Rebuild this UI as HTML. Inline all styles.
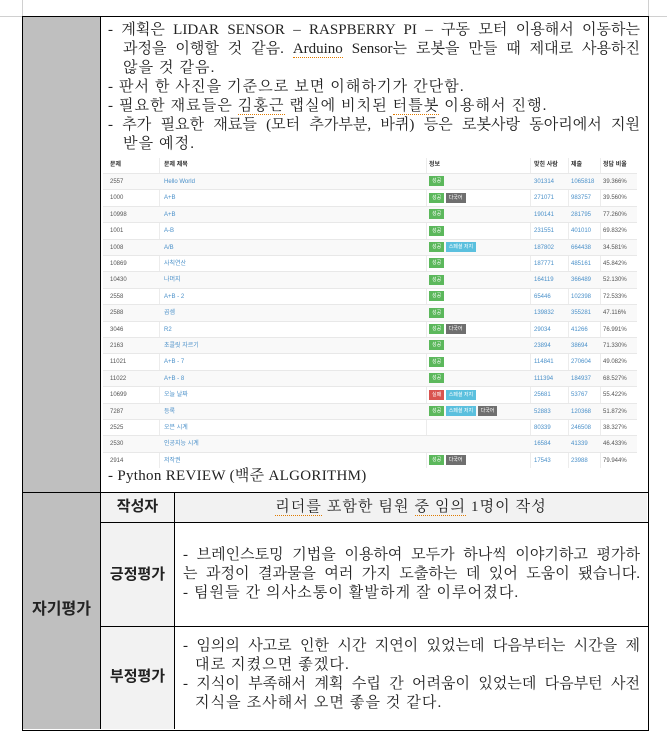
<!DOCTYPE html>
<html><head><meta charset="utf-8">
<style>
html,body{margin:0;padding:0;background:#fff;}
body{width:667px;height:734px;position:relative;overflow:hidden;font-family:"Liberation Serif","Noto Serif CJK SC",serif;color:#222;}
.abs{position:absolute;}
.ln{position:absolute;height:19px;line-height:19px;font-size:15px;white-space:nowrap;letter-spacing:1.1px;top:0;}
.j{text-align:justify;text-align-last:justify;white-space:normal;overflow:hidden;letter-spacing:0;}
.sp{border-bottom:1px dotted #e07b00;}
.shot{position:absolute;left:103px;top:158px;width:534px;font-family:"Liberation Sans","Noto Sans CJK KR",sans-serif;font-size:6px;color:#555;}
.shot .row{position:absolute;left:0;width:534px;height:16.4px;border-top:1px solid #e8e8e8;box-sizing:border-box;}
.shot .c{position:absolute;top:0;height:16px;line-height:16px;white-space:nowrap;}
.badge{display:inline-block;height:10px;line-height:10px;padding:0 3px;color:#fff;font-size:5px;margin-right:1.5px;vertical-align:middle;}
.bold{font-weight:bold;font-family:"Liberation Sans","Noto Sans CJK KR",sans-serif;}
</style></head>
<body>
<div class="abs" style="left:22px;top:0;width:1px;height:16px;background:#d0d0d0"></div>
<div class="abs" style="left:0;top:16px;width:22px;height:1px;background:#d0d0d0"></div>
<div class="abs" style="left:648px;top:0;width:1px;height:16px;background:#d0d0d0"></div>
<div class="abs" style="left:649px;top:16px;width:18px;height:1px;background:#d0d0d0"></div>

<div class="abs" style="left:22px;top:16px;width:625px;height:713px;border:1px solid #000;"></div>
<div class="abs" style="left:23px;top:17px;width:77px;height:476px;background:#bfbfbf;border-right:1px solid #000"></div>
<div class="abs" style="left:23px;top:493px;width:77px;height:236px;background:#bfbfbf;border-right:1px solid #000"></div>
<div class="abs" style="left:22px;top:492px;width:626px;height:1px;background:#000"></div>

<div class="ln j" style="left:108px;top:21px;width:532px">- 계획은 LIDAR SENSOR – RASPBERRY PI – 구동 모터 이용해서 이동하는</div>
<div class="ln j" style="left:123px;top:40px;width:517px">과정을 이행할 것 같음. <span class="sp">Arduino</span> Sensor는 로봇을 만들 때 제대로 사용하진</div>
<div class="ln" style="left:123px;top:59px">않을 것 같음.</div>
<div class="ln" style="left:108px;top:78px">- 판서 한 사진을 기준으로 보면 이해하기가 간단함.</div>
<div class="ln" style="left:108px;top:97px">- 필요한 재료들은 <span class="sp">김홍근</span> 랩실에 비치된 <span class="sp">터틀봇</span> 이용해서 진행.</div>
<div class="ln j" style="left:108px;top:116px;width:532px">- 추가 필요한 재료들 (모터 추가부분, 바퀴) 등은 로봇사랑 동아리에서 지원</div>
<div class="ln" style="left:123px;top:135px">받을 예정.</div>

<div class="shot" id="shot" style="height:310px;"></div>

<div class="ln" style="left:108px;top:467px;letter-spacing:0.3px">- Python REVIEW (백준 ALGORITHM)</div>

<div class="abs bold" style="left:23px;top:600px;width:77px;text-align:center;font-size:16px;line-height:20px">자기평가</div>
<div class="abs" style="left:101px;top:493px;width:73px;height:236px;background:#f2f2f2;border-right:1px solid #000"></div>
<div class="abs" style="left:175px;top:493px;width:472px;height:29px;background:#f2f2f2"></div>
<div class="abs" style="left:101px;top:522px;width:547px;height:1px;background:#000"></div>
<div class="abs" style="left:101px;top:626px;width:547px;height:1px;background:#000"></div>

<div class="abs bold" style="left:101px;top:497px;width:73px;text-align:center;font-size:15px;line-height:20px">작성자</div>
<div class="ln" style="left:175px;top:498px;width:472px;text-align:center"><span class="sp">리더를</span> 포함한 팀원 <span class="sp">중 임의</span> 1명이 작성</div>

<div class="abs bold" style="left:101px;top:565px;width:73px;text-align:center;font-size:15px;line-height:20px">긍정평가</div>
<div class="ln j" style="left:183px;top:546px;width:457px">- 브레인스토밍 기법을 이용하여 모두가 하나씩 이야기하고 평가하</div>
<div class="ln j" style="left:183px;top:565px;width:457px">는 과정이 결과물을 여러 가지 도출하는 데 있어 도움이 됐습니다.</div>
<div class="ln" style="left:183px;top:584px">- 팀원들 간 의사소통이 활발하게 잘 이루어졌다.</div>

<div class="abs bold" style="left:101px;top:667px;width:73px;text-align:center;font-size:15px;line-height:20px">부정평가</div>
<div class="ln j" style="left:183px;top:637px;width:457px">- 임의의 사고로 인한 시간 지연이 있었는데 다음부터는 시간을 제</div>
<div class="ln" style="left:195px;top:656px">대로 지켰으면 좋겠다.</div>
<div class="ln j" style="left:183px;top:675px;width:457px">- 지식이 부족해서 계획 수립 간 어려움이 있었는데 다음부턴 사전</div>
<div class="ln" style="left:195px;top:694px">지식을 조사해서 오면 좋을 것 같다.</div>

<script>
const ids = ["2557","1000","10998","1001","1008","10869","10430","2558","2588","3046","2163","11021","11022","10699","7287","2525","2530","2914"];
const titles = ["Hello World","A+B","A+B","A-B","A/B","사칙연산","나머지","A+B - 2","곱셈","R2","초콜릿 자르기","A+B - 7","A+B - 8","오늘 날짜","등록","오븐 시계","인공지능 시계","저작권"];
const badges = [["성공"],["성공","다국어"],["성공"],["성공"],["성공","스페셜 저지"],["성공"],["성공"],["성공"],["성공"],["성공","다국어"],["성공"],["성공"],["성공"],["실패","스페셜 저지"],["성공","스페셜 저지","다국어"],[],[],["성공","다국어"]];
const solved = ["301314","271071","190141","231551","187802","187771","164119","65446","139832","29034","23894","114841","111394","25681","52883","80339","16584","17543"];
const submits = ["1065818","983757","281795","401010","664438","485161","366489","102398","355281","41266","38694","270604","184937","53767","120368","246508","41339","23988"];
const ratios = ["39.366%","39.560%","77.260%","69.832%","34.581%","45.842%","52.130%","72.533%","47.116%","76.991%","71.330%","49.082%","68.527%","55.422%","51.872%","38.327%","46.433%","79.944%"];
const headers = ["문제","문제 제목","정보","맞힌 사람","제출","정답 비율"];

const shot = document.getElementById('shot');
const colX = [7,61,326,431,468,500];
const lineX = [56,323,427,465,497];
const badgeColor = {"성공":"#5cb85c","실패":"#d9534f","다국어":"#6f6f6f","스페셜 저지":"#5bc0de"};
const rowH = 16.4, headH = 15;

lineX.forEach(function(x){
  const l = document.createElement('div');
  
  
  l.style.cssText = 'position:absolute;top:0;left:'+x+'px;width:1px;height:'+(headH+rowH*ids.length)+'px;background:#ececec';
  shot.appendChild(l);
});

const head = document.createElement('div');


head.style.cssText = 'position:absolute;left:0;top:0;width:534px;height:'+headH+'px;';
headers.forEach(function(h, i){
  const c = document.createElement('div');
  
  
  c.className = 'c';
  c.style.left = colX[i]+'px';
  c.style.lineHeight = headH+'px';
  c.style.fontWeight = 'bold';
  c.style.color = '#333';
  c.textContent = h;
  head.appendChild(c);
});
shot.appendChild(head);

ids.forEach(function(id, r){
  const row = document.createElement('div');
  
  
  row.className = 'row';
  row.style.top = (headH + r*rowH)+'px';
  row.style.background = (r%2===0) ? '#f9f9f9' : 'transparent';
  const vals = [id, titles[r], null, solved[r], submits[r], ratios[r]];
  vals.forEach(function(v, i){
    const c = document.createElement('div');
    c.className = 'c';
    c.style.left = colX[i]+'px';
    if(i===2){
      
      
      badges[r].forEach(function(b){
        const s = document.createElement('span');
        
        
        s.className = 'badge';
        s.style.background = badgeColor[b];
        s.textContent = b;
        c.appendChild(s);
      });
    } else {
      
      
      c.textContent = v;
      if(i===1||i===3||i===4) c.style.color = '#4a90c9';
    }
    row.appendChild(c);
  });
  shot.appendChild(row);
});
</script>
</body></html>
